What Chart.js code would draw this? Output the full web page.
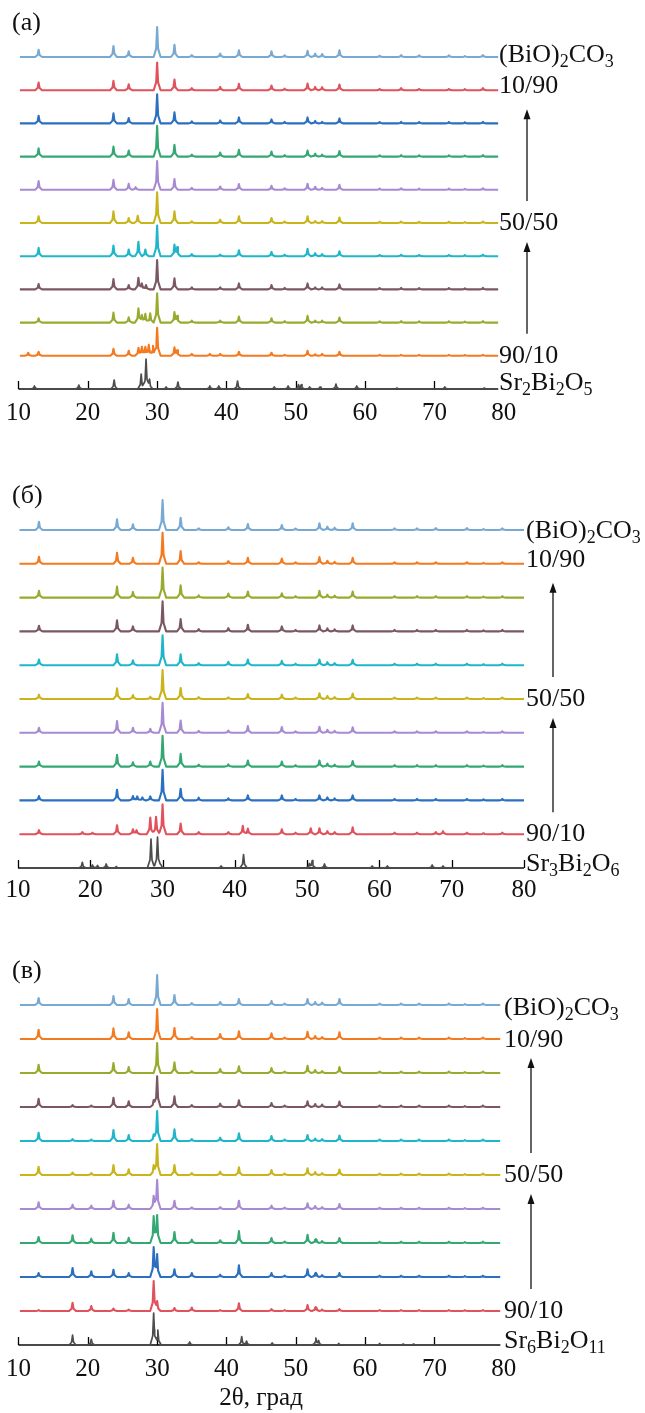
<!DOCTYPE html>
<html>
<head>
<meta charset="utf-8">
<script src="https://cdn.jsdelivr.net/npm/chart.js@4.4.1/dist/chart.umd.min.js"></script>
<style>
  html, body { margin: 0; padding: 0; background: #fff; overflow: hidden; }
  body { width: 645px; height: 1413px; position: relative; }
  .panel { position: absolute; left: 0; width: 645px; }
</style>
</head>
<body>
<div class="panel" style="top:0px;height:437px"><canvas id="chartA"></canvas></div>
<div class="panel" style="top:465px;height:451px"><canvas id="chartB"></canvas></div>
<div class="panel" style="top:960px;height:453px"><canvas id="chartC"></canvas></div>
<script>
// 2θ of the (BiO)2CO3 reflections
const bicPos = [12.9, 23.7, 25.9, 30.0, 32.5, 35.0, 39.1, 41.8, 46.5, 48.4, 51.7, 52.8, 53.8, 56.3, 62.1, 65.2, 67.8, 72.1, 74.4, 77.0];

// ---- panel (а): (BiO)2CO3 / Sr2Bi2O5, traces from top to bottom
const namesA = ['(BiO)2CO3', '10/90', '20/80', '30/70', '40/60', '50/50', '60/40', '70/30', '80/20', '90/10', 'Sr2Bi2O5'];
const bicA = [
  [7.3, 11, 5.7, 30, 12.3, 2, 3.3, 6.7, 5.7, 1.7, 6.3, 3.3, 3, 6.7, 1.3, 2, 1.7, 1.7, 1, 2],
  [7.7, 9.3, 6, 27.7, 10.7, 2, 3.3, 6.3, 4.7, 1.5, 6.7, 3.3, 3, 5.7, 1.3, 2, 1.3, 1.3, 1, 2],
  [7.7, 10, 5.3, 29, 11, 2, 3, 6, 4, 1.5, 6, 2.5, 1.5, 5, 1.3, 1.5, 1.3, 1.3, 1, 1.5],
  [8.3, 10, 6, 30.7, 11.7, 2, 4, 6.7, 5, 1.5, 6, 3, 2, 5.5, 1.3, 1.5, 1.3, 1.3, 1, 1.5],
  [8.7, 10, 6, 28.7, 10.7, 2, 3.3, 5.7, 4, 1.5, 6, 3, 2, 5, 1.3, 1.5, 1.3, 1.3, 1, 1.5],
  [6.7, 11.7, 5, 30.7, 11.7, 1.7, 3.3, 6.7, 5, 1.5, 6.7, 2, 2, 5.5, 1.3, 1.5, 1.3, 1.3, 1, 1.5],
  [8.3, 10.7, 6.7, 30.7, 11, 2, 1.7, 6, 4.3, 1.5, 7.3, 3, 2, 5, 1.3, 1.5, 1.3, 1.3, 1, 1.5],
  [5.3, 10.3, 4.3, 29.3, 11, 2, 2, 6, 4.3, 1.5, 6, 2, 2, 5, 1.3, 1.5, 1.3, 1.3, 1, 1.5],
  [4.3, 10, 5.3, 29.3, 10, 2, 2, 6, 4.3, 1.5, 6.7, 2, 2, 5, 1.3, 1.5, 1.3, 1.3, 1, 1.5],
  [4, 7, 5, 28, 8, 2, 2, 4, 3, 1, 5, 1.5, 2, 4, 1, 1, 1, 1, 0.8, 1],
  null
];
const extraA = [
  [], [], [], [],
  [[26.9, 2.7]],
  [[27.2, 7.3]],
  [[27.3, 14.3], [28.3, 6.7], [32.9, 8.3]],
  [[27.3, 11.7], [27.8, 6], [28.4, 4.3]],
  [[27.3, 14.3], [27.8, 7.7], [28.3, 8.7], [29.0, 9.3], [32.9, 6]],
  [[11.4, 3], [27.3, 8], [27.8, 9], [28.3, 9], [28.8, 11], [29.4, 10], [32.9, 5], [37.6, 2]],
  [[12.3, 3], [18.7, 4], [23.8, 9], [27.7, 15], [28.4, 30], [28.9, 10], [31.3, 2], [33.0, 7], [37.6, 3], [38.9, 3],
   [41.6, 8], [46.9, 2], [48.9, 3], [50.4, 4], [50.8, 4], [52.0, 2], [53.5, 2], [55.8, 5], [58.8, 3], [64.6, 1], [71.5, 2], [77.2, 1]]
];

// ---- panel (б): (BiO)2CO3 / Sr3Bi2O6
const namesB = ['(BiO)2CO3', '10/90', '20/80', '30/70', '40/60', '50/50', '60/40', '70/30', '80/20', '90/10', 'Sr3Bi2O6'];
const bicB = [
  [8.3, 10.7, 5.7, 30, 12.3, 1.7, 2.7, 6, 5, 1.5, 6.7, 3.3, 2.3, 6.7, 1.7, 1.7, 2, 2, 1, 1.7],
  [7, 11, 6, 31, 12.7, 1.5, 2.7, 6, 5.3, 1.5, 6.7, 3, 2, 6, 1.5, 1.5, 1.5, 1.5, 1, 1.5],
  [6.7, 11, 5.7, 30, 12.3, 2.3, 4, 6, 4.3, 1.5, 6.7, 3, 2, 6, 1.5, 1.5, 1.5, 1.5, 1, 1.5],
  [5.7, 11, 5, 30, 12.3, 2.3, 3.3, 6.7, 5, 1.5, 6, 3, 2, 6, 1.5, 1.5, 1.5, 1.5, 1, 1.5],
  [5.7, 11, 5, 30, 11, 2, 3.3, 5.7, 4.3, 1.5, 5.7, 3, 2, 5.5, 1.5, 1.5, 1.5, 1.5, 1, 1.5],
  [4.3, 10.7, 4, 29, 11, 2, 1.7, 5, 4.3, 1.5, 5.7, 3, 2, 5.5, 1.5, 1.5, 1.5, 1.5, 1, 1.5],
  [5, 11.7, 5, 30, 12.3, 2, 2.3, 6.7, 5.7, 1.5, 6, 3, 2, 5.5, 1.5, 1.5, 1.5, 1.5, 1, 1.5],
  [5, 11.7, 4.3, 30.7, 12.7, 2, 2.3, 6, 5, 1.5, 6, 3, 2, 5.5, 1.5, 1.5, 1.5, 1.5, 1, 1.5],
  [4.3, 10.7, 4.3, 30.7, 11.7, 2.7, 2, 5, 5, 1.5, 5, 3, 2, 5, 1.5, 1.5, 1.5, 1.5, 1, 1.5],
  [4, 9, 5, 30, 10.7, 2, 2, 5.7, 5, 1.5, 6, 3, 2, 7, 1.5, 1.5, 2, 1.5, 1, 1.5],
  null
];
const extraB = [
  [], [], [], [], [],
  [[28.3, 2.3]],
  [[28.3, 4]],
  [[28.3, 5]],
  [[26.5, 4], [27.2, 3], [28.3, 4]],
  [[18.9, 2], [20.3, 1.5], [26.4, 4], [28.3, 16.7], [29.1, 17.3], [41.1, 8.3], [50.5, 6], [68.8, 3]],
  [[18.9, 5.7], [20.3, 3], [21.0, 2.5], [22.2, 4], [23.6, 1.5], [28.4, 29], [29.3, 31], [29.8, 3], [38.1, 2], [41.2, 13.3],
   [50.3, 4], [50.7, 7], [52.4, 4], [59.0, 2], [61.1, 2], [67.3, 3], [68.8, 2]]
];

// ---- panel (в): (BiO)2CO3 / Sr6Bi2O11
const namesC = ['(BiO)2CO3', '10/90', '20/80', '30/70', '40/60', '50/50', '60/40', '70/30', '80/20', '90/10', 'Sr6Bi2O11'];
const bicC = [
  [7, 9, 6, 30, 10, 2, 3, 6, 4, 1.5, 6, 3, 2.5, 6, 1.5, 1.5, 1.5, 1.5, 1, 1.5],
  [9.3, 10.7, 6.7, 30, 11, 2, 5, 7.7, 5.7, 1.5, 7.3, 3, 2, 6.7, 1.5, 1.5, 1.5, 1.5, 1, 1.5],
  [8.3, 10, 6, 30, 10.7, 2, 4, 6.7, 5, 1.5, 7.3, 3, 2, 6, 1.5, 1.5, 1.5, 1.5, 1, 1.5],
  [8.3, 9.3, 5.7, 30.7, 10.7, 2, 3.3, 6.7, 4, 1.5, 5.7, 3, 2.5, 5.5, 1.5, 1.5, 1.5, 1.5, 1, 1.5],
  [8.3, 11, 6, 30, 11.7, 2, 3.3, 7.7, 5, 1.5, 6, 2.5, 2, 5.5, 1.5, 1.5, 1.5, 1.5, 1, 1.5],
  [8.3, 10, 5.7, 31, 10, 2, 3.3, 7.7, 5, 1.5, 6.7, 3, 2, 5.5, 1.5, 1.5, 1.5, 1.5, 1, 1.5],
  [6.7, 8.3, 4.3, 29.3, 8.3, 1.7, 2, 8.3, 3.3, 1.5, 5.7, 3, 2, 5, 1.3, 1.3, 1.3, 1.3, 1, 1.3],
  [6, 10.3, 5.3, 28, 11, 3.3, 2.7, 12, 5, 1.5, 8.3, 2, 2, 5, 1.3, 1.3, 1.3, 1.3, 1, 1.3],
  [4, 7.3, 4, 23, 7.7, 4, 2.3, 11.7, 4, 1.5, 7.7, 2.3, 2, 4, 1.3, 1.3, 1.3, 1.3, 1, 1.3],
  [1, 2.5, 1.5, 10, 3, 3.5, 1, 7.7, 2, 1, 6, 2, 1.5, 2, 1, 1, 1, 1, 0.8, 1],
  null
];
const extraC = [
  [], [], [],
  [[17.8, 2], [20.5, 1.5], [29.5, 7]],
  [[17.8, 2], [20.5, 1.5], [29.5, 6.7]],
  [[17.8, 2.5], [20.5, 2], [29.5, 10]],
  [[17.8, 4.3], [20.5, 3.3], [29.5, 13.3]],
  [[17.8, 7.7], [20.5, 4.3], [29.5, 27], [52.9, 3]],
  [[17.8, 9], [20.5, 5.7], [29.5, 30], [52.9, 3]],
  [[17.8, 8.3], [20.5, 5], [29.5, 30], [52.9, 3]],
  [[17.8, 10], [20.5, 5.7], [29.5, 32], [30.1, 15], [34.7, 3], [42.2, 8.3], [42.9, 4], [46.6, 2], [52.9, 6.7], [53.3, 4],
   [56.2, 1.5], [62.1, 1.5], [65.5, 1], [67.0, 1]]
];

// right-hand captions ({} = subscript) and the trace each one sits on
const capA = ['(BiO){2}CO{3}', '10/90', '50/50', '90/10', 'Sr{2}Bi{2}O{5}'];
const capB = ['(BiO){2}CO{3}', '10/90', '50/50', '90/10', 'Sr{3}Bi{2}O{6}'];
const capC = ['(BiO){2}CO{3}', '10/90', '50/50', '90/10', 'Sr{6}Bi{2}O{11}'];
const capRows = [0, 1, 5, 9, 10];
const xTicks = [10, 20, 30, 40, 50, 60, 70, 80];

const colA = ['#78a9d3', '#e0525c', '#2a6fc0', '#34a873', '#a88ad2', '#c9b41c', '#1fb6c9', '#7b5763', '#98ab2e', '#f47a20', '#4d4d4d'];
const colB = ['#78a9d3', '#f47a20', '#98ab2e', '#7b5763', '#1fb6c9', '#c9b41c', '#a88ad2', '#34a873', '#2a6fc0', '#e0525c', '#4d4d4d'];

const FONT = '"Liberation Serif", "Times New Roman", serif';
Chart.defaults.font.family = FONT;
Chart.defaults.color = '#111';

const START = 10.2;   // first recorded angle
const FOOT = 0.5;     // half base of a drawn reflection, deg
const NECK = 0.14;    // half width of its sharp top, deg
const SKIRT = 0.28;   // share of the height where top meets skirt

function peaksOf(h, extra) {
  return bicPos.map((p, k) => [p, h ? h[k] : 0]).filter(q => q[1] > 0).concat(extra);
}

function shape(d) {
  d = Math.abs(d);
  if (d <= NECK) return 1 - (1 - SKIRT) * d / NECK;
  if (d <= FOOT) return SKIRT * (FOOT - d) / (FOOT - NECK);
  return 0;
}

// polyline through the vertices of every reflection
function trace(peaks, end, base) {
  const xs = [START, end];
  peaks.forEach(([p]) => xs.push(p - FOOT, p - NECK, p, p + NECK, p + FOOT));
  return [...new Set(xs)].filter(x => x >= START && x <= end).sort((a, b) => a - b)
    .map(x => ({ x, y: base + peaks.reduce((s, [p, h]) => s + h * shape(x - p), 0) }));
}

function rich(ctx, str, x, y, size) {
  str.split(/(\{[^}]*\})/).filter(Boolean).forEach(s => {
    const sub = s[0] === '{';
    const t = sub ? s.slice(1, -1) : s;
    ctx.font = (sub ? Math.round(size * 0.7) : size) + 'px ' + FONT;
    ctx.fillText(t, x, y + (sub ? size * 0.2 : 0));
    x += ctx.measureText(t).width;
  });
}

const deco = {
  id: 'deco',
  beforeDatasetsDraw(chart, args, o) {
    const { ctx } = chart, xs = chart.scales.x, ys = chart.scales.y;
    const y0 = ys.getPixelForValue(0);
    ctx.save();
    ctx.strokeStyle = '#000';
    ctx.lineWidth = 1.6;
    ctx.beginPath();
    ctx.moveTo(xs.getPixelForValue(10), y0);
    ctx.lineTo(xs.getPixelForValue(o.end), y0);
    ctx.stroke();
    ctx.lineWidth = 1.3;
    ctx.beginPath();
    xs.ticks.forEach(t => {
      if (t.value > o.end + 0.01) return;
      const px = Math.round(xs.getPixelForValue(t.value)) + 0.5;
      ctx.moveTo(px, y0);
      ctx.lineTo(px, y0 - 8);
    });
    ctx.stroke();
    ctx.restore();
  },
  afterDraw(chart, args, o) {
    const { ctx } = chart, ys = chart.scales.y;
    const rowY = i => ys.getPixelForValue((10 - i) * o.sp);
    ctx.save();
    ctx.fillStyle = '#111';
    ctx.textBaseline = 'alphabetic';
    ctx.font = '26px ' + FONT;
    ctx.fillText(o.letter, 12, rowY(0) - 27);
    o.caps.forEach((c, k) => rich(ctx, c, o.labelX, rowY(capRows[k]) + o.dy[k], 26));
    // arrows 90/10 -> 50/50 -> 10/90
    ctx.strokeStyle = '#111';
    ctx.lineWidth = 1.3;
    [[9, 5], [5, 1]].forEach(([from, to]) => {
      const x = o.arrowX, y1 = rowY(from) - 22, y2 = rowY(to) + 19;
      ctx.beginPath();
      ctx.moveTo(x, y1);
      ctx.lineTo(x, y2 + 8);
      ctx.stroke();
      ctx.beginPath();
      ctx.moveTo(x, y2);
      ctx.lineTo(x - 3.5, y2 + 10);
      ctx.lineTo(x + 3.5, y2 + 10);
      ctx.closePath();
      ctx.fill();
    });
    ctx.restore();
  }
};

function makePanel(id, names, bic, extra, cols, caps, lay) {
  const datasets = names.map((n, i) => ({
    label: n,
    data: trace(peaksOf(bic[i], extra[i]), lay.end, (10 - i) * lay.sp),
    borderColor: cols[i],
    borderWidth: i === 10 ? 1.7 : 2.1,
    borderJoinStyle: 'round',
    pointRadius: 0,
    tension: 0,
    fill: false
  }));
  return new Chart(document.getElementById(id), {
    type: 'line',
    data: { datasets },
    plugins: [deco],
    options: {
      responsive: true,
      maintainAspectRatio: false,
      animation: false,
      devicePixelRatio: 1,
      layout: { padding: { left: 18, right: lay.right, top: 0, bottom: 0 } },
      scales: {
        x: {
          type: 'linear', min: 10, max: 80,
          afterBuildTicks: s => { s.ticks = xTicks.map(v => ({ value: v })); },
          border: { display: false },
          grid: { display: false, drawTicks: false },
          ticks: { font: { size: 25 }, color: '#111', padding: lay.tickPad, maxRotation: 0, autoSkip: false },
          title: lay.title ? { display: true, text: lay.title, font: { size: 25 }, color: '#111', padding: 0 } : { display: false },
          afterFit: s => { s.height = lay.axisH; }
        },
        y: { type: 'linear', display: false, min: -3, max: lay.ymax }
      },
      plugins: {
        legend: { display: false },
        tooltip: { enabled: false },
        deco: { end: lay.end, sp: lay.sp, letter: lay.letter, caps, labelX: lay.labelX, dy: lay.dy, arrowX: lay.arrowX }
      }
    }
  });
}

makePanel('chartA', namesA, bicA, extraA, colA, capA,
  { sp: 33.2, ymax: 389, end: 79.2, right: 141.3, axisH: 45, tickPad: 6, letter: '(а)', labelX: 499, arrowX: 527, dy: [5, 3, 7, 7, 1] });
makePanel('chartB', namesB, bicB, extraB, colB, capB,
  { sp: 33.8, ymax: 403, end: 80, right: 121, axisH: 45, tickPad: 4, letter: '(б)', labelX: 526, arrowX: 553, dy: [8, 3, 7, 7, 3] });
makePanel('chartC', namesC, bicC, extraC, colB, capC,
  { sp: 34, ymax: 385, end: 79.5, right: 141.3, axisH: 65, tickPad: 6, letter: '(в)', labelX: 504, arrowX: 531, dy: [10, 8, 7, 7, 3], title: '2θ, град' });
</script>
</body>
</html>
